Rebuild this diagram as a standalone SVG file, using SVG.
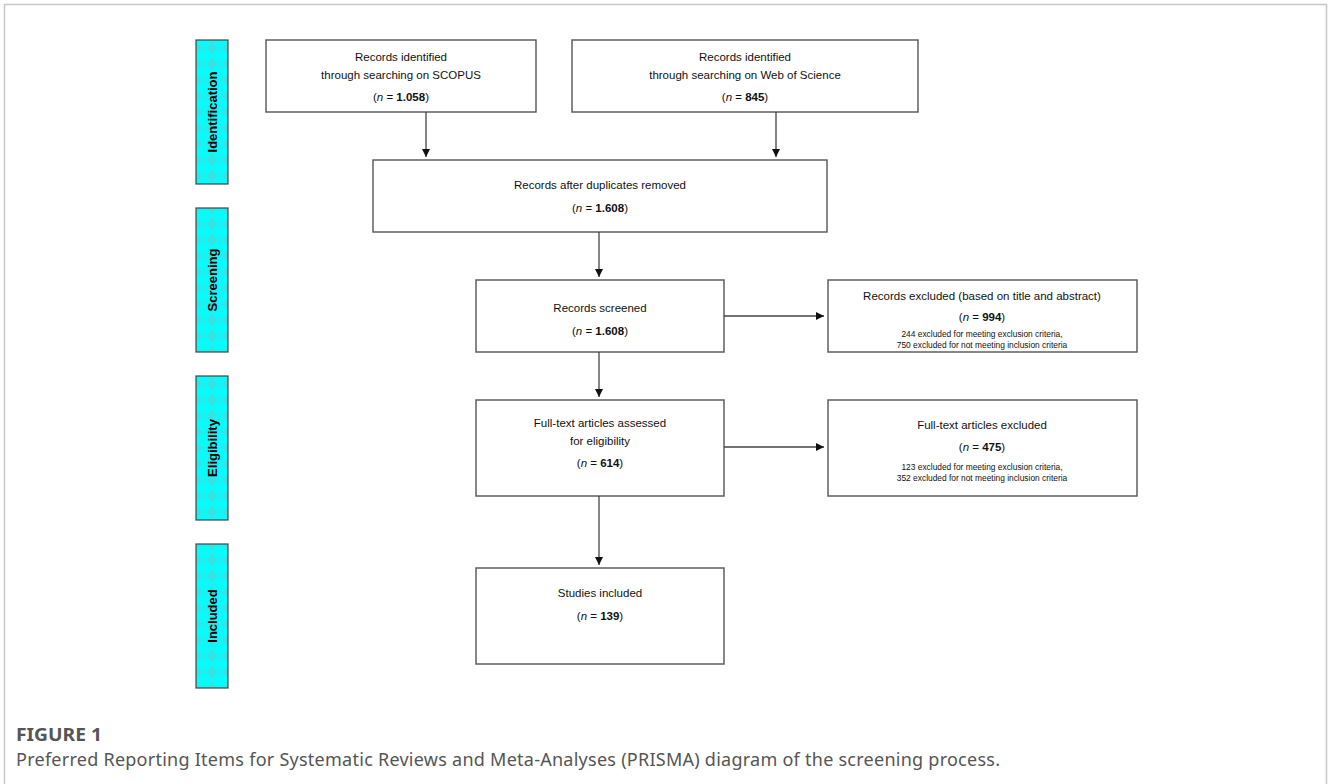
<svg xmlns="http://www.w3.org/2000/svg" width="1328" height="784" viewBox="0 0 1328 784">
  <defs>
    <pattern id="dots" x="196" y="0" width="16" height="16" patternUnits="userSpaceOnUse">
      <rect width="16" height="16" fill="#3cdfe2"/>
      <circle cx="8" cy="8" r="7.8" fill="#0cf9f9"/>
    </pattern>
    <marker id="arr" viewBox="0 0 10 10" refX="10" refY="5" markerWidth="8" markerHeight="8" markerUnits="userSpaceOnUse" orient="auto">
      <path d="M0,0 L10,5 L0,10 Z" fill="#111"/>
    </marker>
    <style>
      .box { fill: #fff; stroke: #555; stroke-width: 1.4; }
      .bar { fill: url(#dots); stroke: #444; stroke-width: 1.2; }
      .bl { font-family: "Liberation Sans", Arial, sans-serif; font-weight: bold; font-size: 13px; fill: #000; text-anchor: middle; }
      .t { font-family: "Liberation Sans", Arial, sans-serif; font-size: 11.5px; fill: #111; text-anchor: middle; }
      .s { font-family: "Liberation Sans", Arial, sans-serif; font-size: 8.4px; fill: #111; text-anchor: middle; }
      .b { font-weight: bold; }
      .i { font-style: italic; }
      .conn { stroke: #444; stroke-width: 1.3; fill: none; marker-end: url(#arr); }
      .cap { font-family: "Noto Sans", "Open Sans", sans-serif; fill: #555; }
    </style>
  </defs>
  <rect width="1328" height="784" fill="#fff"/>
  <path d="M4.5,784 V4.5 H1326.5 V784" fill="none" stroke="#c8c8c8" stroke-width="1.5"/>

  <g id="phase-identification">
    <rect class="bar" x="196" y="40" width="32" height="144"/>
    <text class="bl" transform="translate(216.5,112) rotate(-90)">Identification</text>
  </g>
  <g id="phase-screening">
    <rect class="bar" x="196" y="208" width="32" height="144"/>
    <text class="bl" transform="translate(216.5,280) rotate(-90)">Screening</text>
  </g>
  <g id="phase-eligibility">
    <rect class="bar" x="196" y="376" width="32" height="144"/>
    <text class="bl" transform="translate(216.5,448) rotate(-90)">Eligibility</text>
  </g>
  <g id="phase-included">
    <rect class="bar" x="196" y="544" width="32" height="144"/>
    <text class="bl" transform="translate(216.5,616) rotate(-90)">Included</text>
  </g>

  <g id="scopus">
    <rect class="box" x="266" y="40" width="270" height="72"/>
    <text class="t" x="401" y="61">Records identified</text>
    <text class="t" x="401" y="79">through searching on SCOPUS</text>
    <text class="t" x="401" y="101">(<tspan class="i">n</tspan> = <tspan class="b">1.058</tspan>)</text>
  </g>
  <g id="wos">
    <rect class="box" x="572" y="40" width="346" height="72"/>
    <text class="t" x="745" y="61">Records identified</text>
    <text class="t" x="745" y="79">through searching on Web of Science</text>
    <text class="t" x="745" y="101">(<tspan class="i">n</tspan> = <tspan class="b">845</tspan>)</text>
  </g>
  <g id="duplicates">
    <rect class="box" x="373" y="160" width="454" height="72"/>
    <text class="t" x="600" y="189">Records after duplicates removed</text>
    <text class="t" x="600" y="212">(<tspan class="i">n</tspan> = <tspan class="b">1.608</tspan>)</text>
  </g>
  <g id="screened">
    <rect class="box" x="476" y="280" width="248" height="72"/>
    <text class="t" x="600" y="312">Records screened</text>
    <text class="t" x="600" y="335">(<tspan class="i">n</tspan> = <tspan class="b">1.608</tspan>)</text>
  </g>
  <g id="excluded1">
    <rect class="box" x="828" y="280" width="309" height="72"/>
    <text class="t" x="982" y="300" font-size="10.4">Records excluded (based on title and abstract)</text>
    <text class="t" x="982" y="321">(<tspan class="i">n</tspan> = <tspan class="b">994</tspan>)</text>
    <text class="s" x="982" y="337">244 excluded for meeting exclusion criteria,</text>
    <text class="s" x="982" y="348">750 excluded for not meeting inclusion criteria</text>
  </g>
  <g id="fulltext">
    <rect class="box" x="476" y="400" width="248" height="96"/>
    <text class="t" x="600" y="427">Full-text articles assessed</text>
    <text class="t" x="600" y="445">for eligibility</text>
    <text class="t" x="600" y="467">(<tspan class="i">n</tspan> = <tspan class="b">614</tspan>)</text>
  </g>
  <g id="excluded2">
    <rect class="box" x="828" y="400" width="309" height="96"/>
    <text class="t" x="982" y="429">Full-text articles excluded</text>
    <text class="t" x="982" y="451">(<tspan class="i">n</tspan> = <tspan class="b">475</tspan>)</text>
    <text class="s" x="982" y="470">123 excluded for meeting exclusion criteria,</text>
    <text class="s" x="982" y="481">352 excluded for not meeting inclusion criteria</text>
  </g>
  <g id="included">
    <rect class="box" x="476" y="568" width="248" height="96"/>
    <text class="t" x="600" y="597">Studies included</text>
    <text class="t" x="600" y="620">(<tspan class="i">n</tspan> = <tspan class="b">139</tspan>)</text>
  </g>

  <g id="connectors">
    <line class="conn" x1="426" y1="112" x2="426" y2="157"/>
    <line class="conn" x1="776" y1="112" x2="776" y2="157"/>
    <line class="conn" x1="599" y1="232" x2="599" y2="277"/>
    <line class="conn" x1="724" y1="316" x2="824" y2="316"/>
    <line class="conn" x1="599" y1="352" x2="599" y2="397"/>
    <line class="conn" x1="724" y1="447" x2="824" y2="447"/>
    <line class="conn" x1="599" y1="496" x2="599" y2="565"/>
  </g>

  <g id="caption">
    <text class="cap" x="16" y="741" font-size="18" font-weight="bold" textLength="86" lengthAdjust="spacingAndGlyphs">FIGURE 1</text>
    <text class="cap" x="16" y="766" font-size="18" textLength="984" lengthAdjust="spacing">Preferred Reporting Items for Systematic Reviews and Meta-Analyses (PRISMA) diagram of the screening process.</text>
  </g>
</svg>
